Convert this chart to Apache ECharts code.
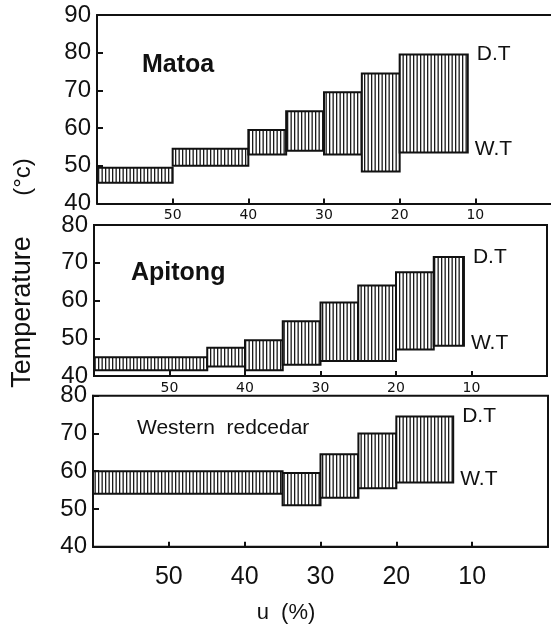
<!DOCTYPE html>
<html>
<head>
<meta charset="utf-8">
<script src="https://cdn.jsdelivr.net/npm/echarts@6/dist/echarts.min.js"></script>
<style>
  html, body { margin: 0; padding: 0; background: #fff; }
  #chart { width: 551px; height: 629px; }
</style>
</head>
<body>
<div id="chart"></div>
<script>
// moisture content steps (u %, from -> to), dry bulb (D.T) and wet bulb (W.T) temperatures
var matoaFrom = [60, 50, 40, 35, 30, 25, 20];
var matoaTo   = [50, 40, 35, 30, 25, 20, 11];
var matoaDT   = [49.5, 54.5, 59.5, 64.5, 69.5, 74.5, 79.5];
var matoaWT   = [45.5, 50, 53, 54, 53, 48.5, 53.5];

var apitongFrom = [60, 45, 40, 35, 30, 25, 20, 15];
var apitongTo   = [45, 40, 35, 30, 25, 20, 15, 11];
var apitongDT   = [45, 47.5, 49.5, 54.5, 59.5, 64, 67.5, 71.5];
var apitongWT   = [41.5, 42.5, 41.5, 43, 44, 44, 47, 48];

var cedarFrom = [60, 35, 30, 25, 20];
var cedarTo   = [35, 30, 25, 20, 12.5];
var cedarDT   = [60, 59.5, 64.5, 70, 74.5];
var cedarWT   = [54, 51, 53, 55.5, 57];

var FONT = "'Liberation Sans', Arial, sans-serif";
var INK = '#111';

// vertical hatching
var hatch = document.createElement('canvas');
hatch.width = 7; hatch.height = 4;
var hctx = hatch.getContext('2d');
hctx.fillStyle = '#fff';
hctx.fillRect(0, 0, 7, 4);
hctx.fillStyle = '#1a1a1a';
hctx.fillRect(0, 0, 1.3, 4);
hctx.fillRect(3.5, 0, 1.3, 4);
var hatchFill = { image: hatch, repeat: 'repeat' };

function makeData(from, to, dt, wt) {
  return from.map(function (f, i) { return [f, to[i], wt[i], dt[i]]; });
}

function boxRenderer(n) {
  return function (params, api) {
    var top = api.coord([api.value(0), api.value(3)]);
    var bot = api.coord([api.value(1), api.value(2)]);
    var x = Math.min(top[0], bot[0]);
    var w = Math.abs(bot[0] - top[0]);
    var kids = [{
      type: 'rect',
      shape: { x: x, y: top[1], width: w, height: bot[1] - top[1] },
      style: { fill: hatchFill, stroke: INK, lineWidth: 2 }
    }];
    if (params.dataIndex === n - 1) {
      kids.push({ type: 'text', style: { text: 'D.T', x: x + w + 9, y: top[1], verticalAlign: 'middle', font: '21px ' + FONT, fill: INK } });
      kids.push({ type: 'text', style: { text: 'W.T', x: x + w + 7, y: bot[1] - 3, verticalAlign: 'middle', font: '21px ' + FONT, fill: INK } });
    }
    return { type: 'group', children: kids };
  };
}

function xAx(idx, big) {
  return {
    type: 'value', gridIndex: idx, min: 0, max: 60, interval: 10, inverse: true,
    axisLine: { onZero: false, lineStyle: { color: INK, width: 2 } },
    axisTick: { inside: true, length: 5, lineStyle: { color: INK, width: 2 } },
    axisLabel: big
      ? { showMinLabel: false, showMaxLabel: false, margin: 18, fontSize: 25, color: INK, fontFamily: FONT }
      : { showMinLabel: false, showMaxLabel: false, margin: 5, fontSize: 14, color: INK, fontFamily: "'DejaVu Sans', sans-serif" },
    splitLine: { show: false }
  };
}

function yAx(idx, max) {
  return {
    type: 'value', gridIndex: idx, min: 40, max: max, interval: 10,
    axisLine: { onZero: false, lineStyle: { color: INK, width: 2 } },
    axisTick: { inside: true, length: 6, lineStyle: { color: INK, width: 2 } },
    axisLabel: { margin: 6, fontSize: 24, color: INK, fontFamily: FONT },
    splitLine: { show: false }
  };
}

function boxSeries(idx, from, to, dt, wt) {
  return {
    type: 'custom', xAxisIndex: idx, yAxisIndex: idx,
    data: makeData(from, to, dt, wt),
    renderItem: boxRenderer(from.length),
    silent: true,
    clip: false
  };
}

var gridBase = { show: true, borderColor: INK, borderWidth: 2, backgroundColor: 'transparent' };

// top panel: no right border, so its top edge is drawn by a bare axis line
var topEdge = {
  type: 'value', gridIndex: 0, position: 'top', min: 0, max: 60, inverse: true,
  axisLine: { onZero: false, lineStyle: { color: INK, width: 2 } },
  axisTick: { show: false }, axisLabel: { show: false }, splitLine: { show: false }
};

var chart = echarts.init(document.getElementById('chart'), null, { renderer: 'canvas' });
chart.setOption({
  animation: false,
  backgroundColor: '#fff',
  grid: [
    { left: 97, right: -2, top: 15, height: 188.5 },
    Object.assign({ left: 94, right: 4, top: 225, height: 151 }, gridBase),
    Object.assign({ left: 93, right: 3, top: 395.7, height: 151 }, gridBase)
  ],
  xAxis: [xAx(0, false), xAx(1, false), xAx(2, true), topEdge],
  yAxis: [yAx(0, 90), yAx(1, 80), yAx(2, 80)],
  series: [
    boxSeries(0, matoaFrom, matoaTo, matoaDT, matoaWT),
    boxSeries(1, apitongFrom, apitongTo, apitongDT, apitongWT),
    boxSeries(2, cedarFrom, cedarTo, cedarDT, cedarWT)
  ],
  graphic: [
    { type: 'text', left: 142, top: 53, style: { text: 'Matoa', font: 'bold 25px ' + FONT, fill: INK } },
    { type: 'text', left: 131, top: 261, style: { text: 'Apitong', font: 'bold 25px ' + FONT, fill: INK } },
    { type: 'text', left: 137, top: 418, style: { text: 'Western  redcedar', font: '21px ' + FONT, fill: INK } },
    { type: 'text', x: 23, y: 312, rotation: Math.PI / 2,
      style: { text: 'Temperature', font: '27px ' + FONT, fill: INK, align: 'center', verticalAlign: 'middle' } },
    { type: 'text', x: 23, y: 177, rotation: Math.PI / 2,
      style: { text: '(°c)', font: '24px ' + FONT, fill: INK, align: 'center', verticalAlign: 'middle' } },
    { type: 'text', x: 286, y: 613,
      style: { text: 'u  (%)', font: '22px ' + FONT, fill: INK, align: 'center', verticalAlign: 'middle' } }
  ]
});
</script>
</body>
</html>
